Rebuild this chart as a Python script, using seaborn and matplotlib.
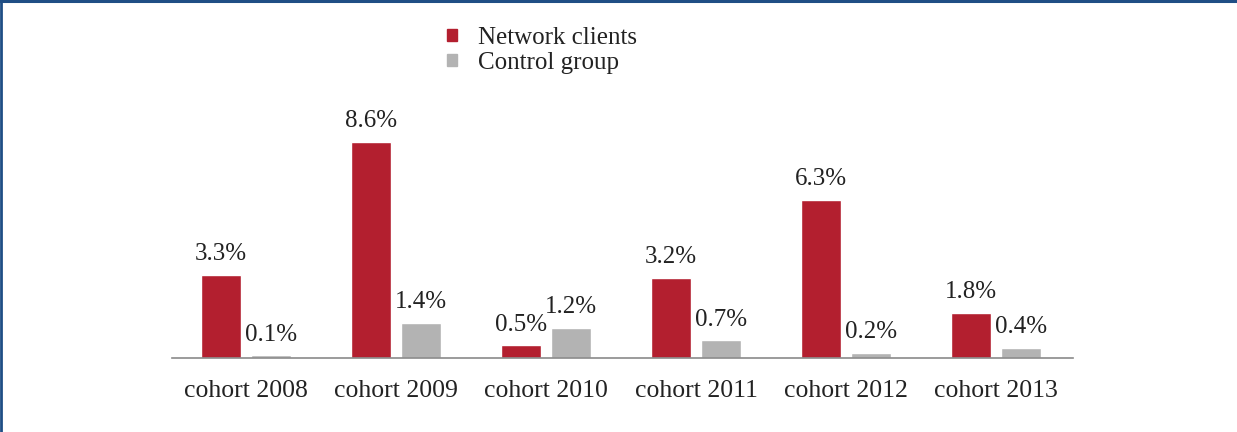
import matplotlib
matplotlib.use("Agg")
import matplotlib.pyplot as plt
import matplotlib.patches as mpatches
import matplotlib.lines as mlines
import seaborn as sns
import pandas as pd

categories = ["cohort 2008", "cohort 2009", "cohort 2010", "cohort 2011", "cohort 2012", "cohort 2013"]
network_clients = [3.3, 8.6, 0.5, 3.2, 6.3, 1.8]
control_group = [0.1, 1.4, 1.2, 0.7, 0.2, 0.4]
series_names = ["Network clients", "Control group"]
colors = ["#B31F2F", "#B3B3B3"]

df = pd.DataFrame({
    "cohort": categories * 2,
    "value": network_clients + control_group,
    "series": [series_names[0]] * len(categories) + [series_names[1]] * len(categories),
})

sns.set_style("white")
plt.rcParams["font.family"] = ["Liberation Serif", "DejaVu Serif"]
text_color = "#222222"

fig = plt.figure(figsize=(12.37, 4.32), dpi=100)
ax = fig.add_axes([172 / 1237, (432 - 358) / 432, (1073 - 172) / 1237, (358 - 20) / 432])

sns.barplot(data=df, x="cohort", y="value", hue="series", palette=colors,
            width=0.667, gap=0.2, ax=ax, legend=False, saturation=1)

ax.set_xlim(-0.493, 5.513)
ax.set_ylim(0, 13.45)
ax.set_xlabel("")
ax.set_ylabel("")
ax.set_yticks([])
for s in ["top", "right", "left"]:
    ax.spines[s].set_visible(False)
ax.spines["bottom"].set_color("#8a8a8a")
ax.spines["bottom"].set_linewidth(1.2)
ax.tick_params(axis="x", length=0, pad=16, labelsize=18.5, labelcolor=text_color)

for container in ax.containers:
    ax.bar_label(container, labels=[f"{v:.1f}%" for v in container.datavalues],
                 padding=7, fontsize=18, color=text_color)

handles = [mpatches.Patch(color=c, label=n) for c, n in zip(colors, series_names)]
leg = fig.legend(handles=handles, loc="upper left", bbox_to_anchor=(447 / 1237, 1 - 27 / 432),
                 frameon=False, fontsize=18, handlelength=0.4, handleheight=0.4,
                 handletextpad=0.85, labelspacing=0.12, borderaxespad=0, borderpad=0)
for t in leg.get_texts():
    t.set_color(text_color)

# frame lines (top and left)
border = "#1F4E85"
fig.add_artist(mlines.Line2D([0, 1], [1 - 1.2 / 432, 1 - 1.2 / 432], transform=fig.transFigure,
                             color=border, linewidth=2.2))
fig.add_artist(mlines.Line2D([1 / 1237, 1 / 1237], [0, 1], transform=fig.transFigure,
                             color=border, linewidth=2.0))

fig.savefig("out.png", dpi=100, facecolor="white")
